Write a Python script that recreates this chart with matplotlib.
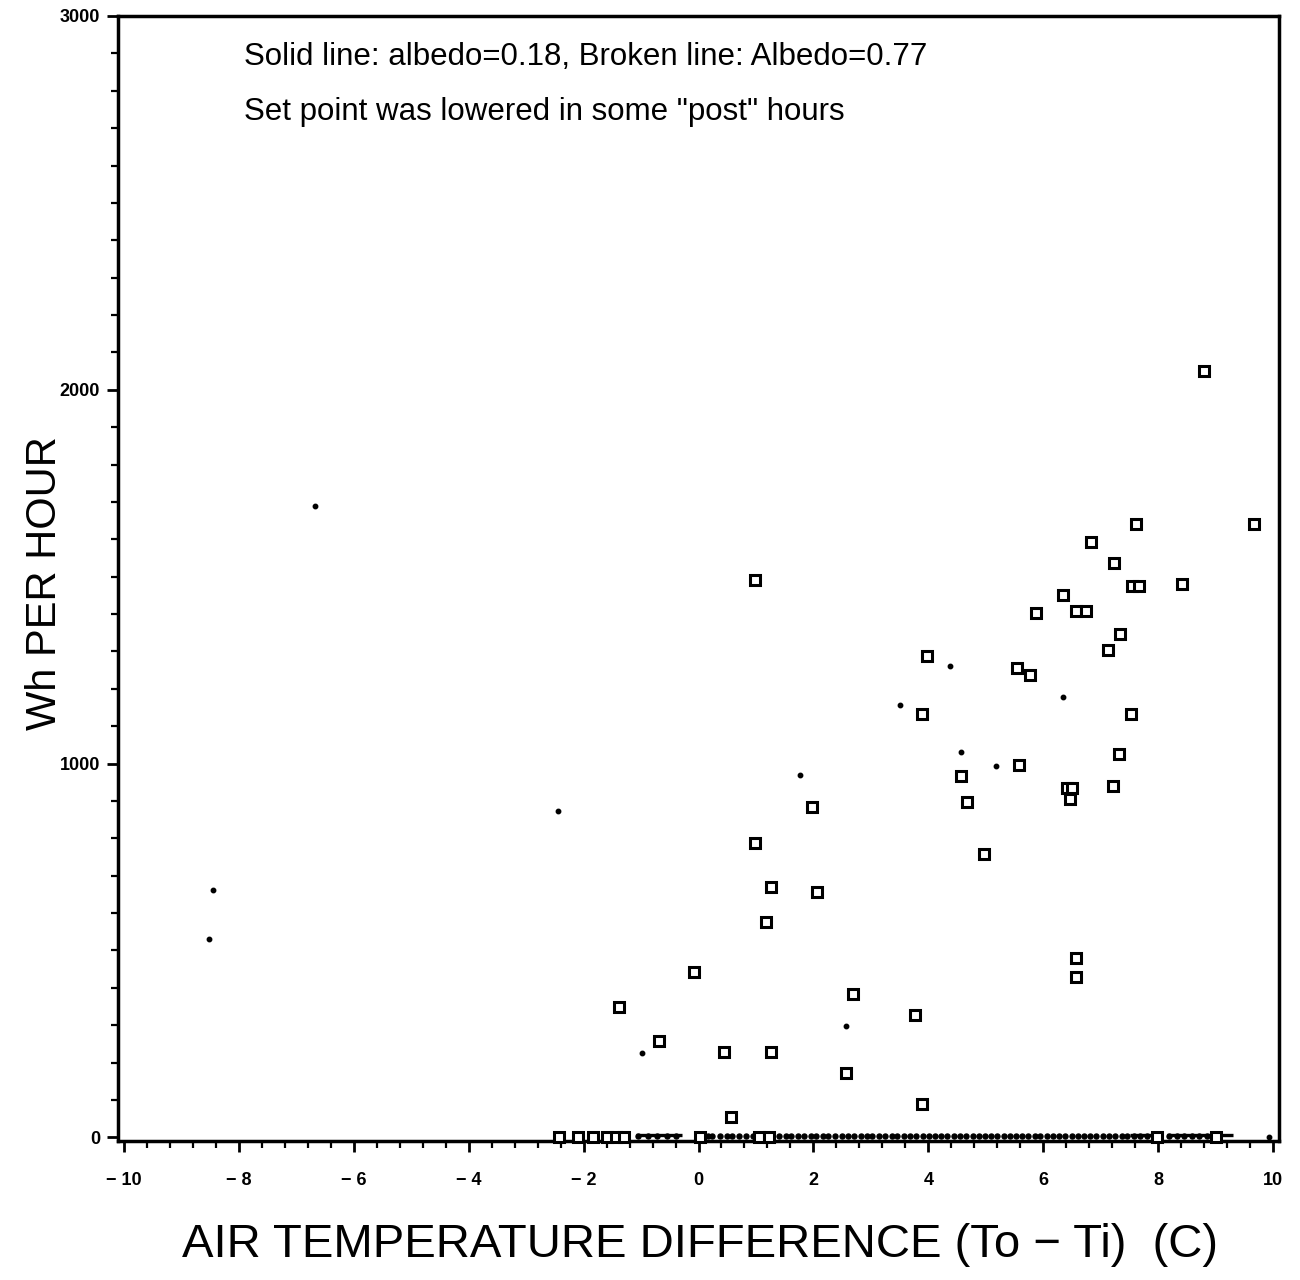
import matplotlib
matplotlib.use("Agg")
import matplotlib.pyplot as plt
from matplotlib.ticker import MultipleLocator

# ---- data ----
# open squares (non-zero hours)
sq_x = [8.80, 9.67, 7.62, 6.83, 7.23, 7.55, 7.67, 8.42, 6.35, 6.57, 6.75, 5.88,
        7.34, 7.13, 3.98, 5.55, 5.77, 3.88, 7.53, 7.32, 4.57, 5.57, 6.42, 6.49,
        6.47, 7.22, 4.68, 1.97, 4.97, 0.99, 0.99, 1.27, 2.07, 1.17, -0.07, -1.39,
        -0.68, 0.45, 1.27, 2.68, 3.77, 2.57, 0.57, 3.88, 6.57, 6.57]
sq_y = [2050, 1640, 1640, 1592, 1536, 1474, 1474, 1480, 1450, 1408, 1408, 1402,
        1346, 1303, 1288, 1255, 1236, 1133, 1133, 1026, 967, 995, 934, 934,
        905, 940, 897, 883, 757, 1490, 787, 669, 656, 575, 441, 348,
        257, 227, 227, 383, 326, 171, 54, 88, 479, 428]

# open squares sitting on zero
sq0_x = [-2.42, -2.10, -1.84, -1.60, -1.43, -1.29, 0.02, 1.06, 1.23, 7.97, 9.00]
sq0_y = [0, 0, 0, 0, 0, 0, 0, 0, 0, 0, 0]

# small filled dots (non-zero)
dot_x = [4.37, 6.35, 3.50, 4.57, 5.18, 1.77, -0.99, 2.57, -6.68, -8.45, -8.52, -2.45, 9.93]
dot_y = [1260, 1177, 1156, 1030, 993, 969, 225, 297, 1688, 661, 530, 872, 0]

# small dots along zero
dot0_x = [-1.05, -0.88, -0.72, -0.55, -0.40, 0.16, 0.24, 0.37, 0.49, 0.59, 0.71,
          0.83, 0.94, 1.40, 1.52, 1.61, 1.73, 1.84, 1.95, 2.05, 2.17, 2.26, 2.38,
          2.49, 2.60, 2.70, 2.82, 2.93, 3.02, 3.14, 3.25, 3.36, 3.45, 3.57, 3.68,
          3.78, 3.90, 4.01, 4.12, 4.22, 4.33, 4.45, 4.55, 4.66, 4.77, 4.88, 4.98,
          5.09, 5.20, 5.31, 5.42, 5.52, 5.63, 5.74, 5.85, 5.95, 6.06, 6.17, 6.28,
          6.38, 6.49, 6.60, 6.71, 6.82, 6.92, 7.03, 7.14, 7.25, 7.36, 7.46, 7.57,
          7.68, 7.80, 8.18, 8.32, 8.45, 8.58, 8.71, 8.84]
dot0_y = [4] * len(dot0_x)

# short line pieces drawn along zero
seg_x0 = [-1.08, 7.50, 8.15, 9.05]
seg_x1 = [-0.28, 7.90, 8.92, 9.30]
seg_y = [6, 6, 6, 6]

notes = ["Solid line: albedo=0.18, Broken line: Albedo=0.77",
         "Set point was lowered in some \"post\" hours"]
x_ticks = [-10, -8, -6, -4, -2, 0, 2, 4, 6, 8, 10]
y_ticks = [0, 1000, 2000, 3000]

# ---- figure ----
fig = plt.figure(figsize=(13, 12.8), dpi=100)
ax = fig.add_axes([118 / 1300, 1 - 1141 / 1280, (1279 - 118) / 1300, (1141 - 16) / 1280])

ax.hlines(seg_y, seg_x0, seg_x1, colors="black", linewidth=2.4, zorder=2)
ax.plot(dot0_x, dot0_y, linestyle="none", marker="o", markersize=3.6,
        color="black", zorder=3, clip_on=False)
ax.plot(dot_x, dot_y, linestyle="none", marker="o", markersize=3.2,
        color="black", zorder=3, clip_on=False)
ax.plot(sq0_x, sq0_y, linestyle="none", marker="s", markersize=7.5,
        markerfacecolor="white", markeredgecolor="black", markeredgewidth=2.2,
        zorder=4, clip_on=False)
ax.plot(sq_x, sq_y, linestyle="none", marker="s", markersize=7.5,
        markerfacecolor="white", markeredgecolor="black", markeredgewidth=2.2,
        zorder=4)

ax.set_xlim(-10.1, 10.1)
ax.set_ylim(-10, 3000)

ax.set_xticks(x_ticks)
ax.set_xticklabels([("\u2212 " + str(abs(v))) if v < 0 else str(v) for v in x_ticks])
ax.set_yticks(y_ticks)
ax.set_yticklabels([str(v) for v in y_ticks])
ax.xaxis.set_minor_locator(MultipleLocator(0.4))
ax.yaxis.set_minor_locator(MultipleLocator(100))

for s in ax.spines.values():
    s.set_linewidth(2.5)

ax.tick_params(axis="both", which="major", direction="out", length=8, width=2,
               labelsize=13)
ax.tick_params(axis="both", which="minor", direction="out", length=5, width=1.6)
ax.tick_params(axis="y", which="major", pad=5)
ax.tick_params(axis="x", which="major", pad=14)
for lab in ax.get_xticklabels() + ax.get_yticklabels():
    lab.set_fontweight("bold")
    lab.set_family("Liberation Sans")

ax.text(-7.9, 2890, notes[0], fontsize=22.5, family="Liberation Sans",
        va="center", ha="left")
ax.text(-7.9, 2743, notes[1], fontsize=22.5, family="Liberation Sans",
        va="center", ha="left")

ax.set_ylabel("Wh PER HOUR", fontsize=30, family="Liberation Sans", va="center")
ax.yaxis.set_label_coords(-0.063, (1141 - 583) / 1125)
ax.set_xlabel("AIR TEMPERATURE DIFFERENCE (To \u2212 Ti)  (C)", fontsize=34,
              family="Liberation Sans", va="center")
ax.xaxis.set_label_coords((700 - 118) / 1161, (1141 - 1245) / 1125)

fig.savefig("out.png", dpi=100, facecolor="white")
